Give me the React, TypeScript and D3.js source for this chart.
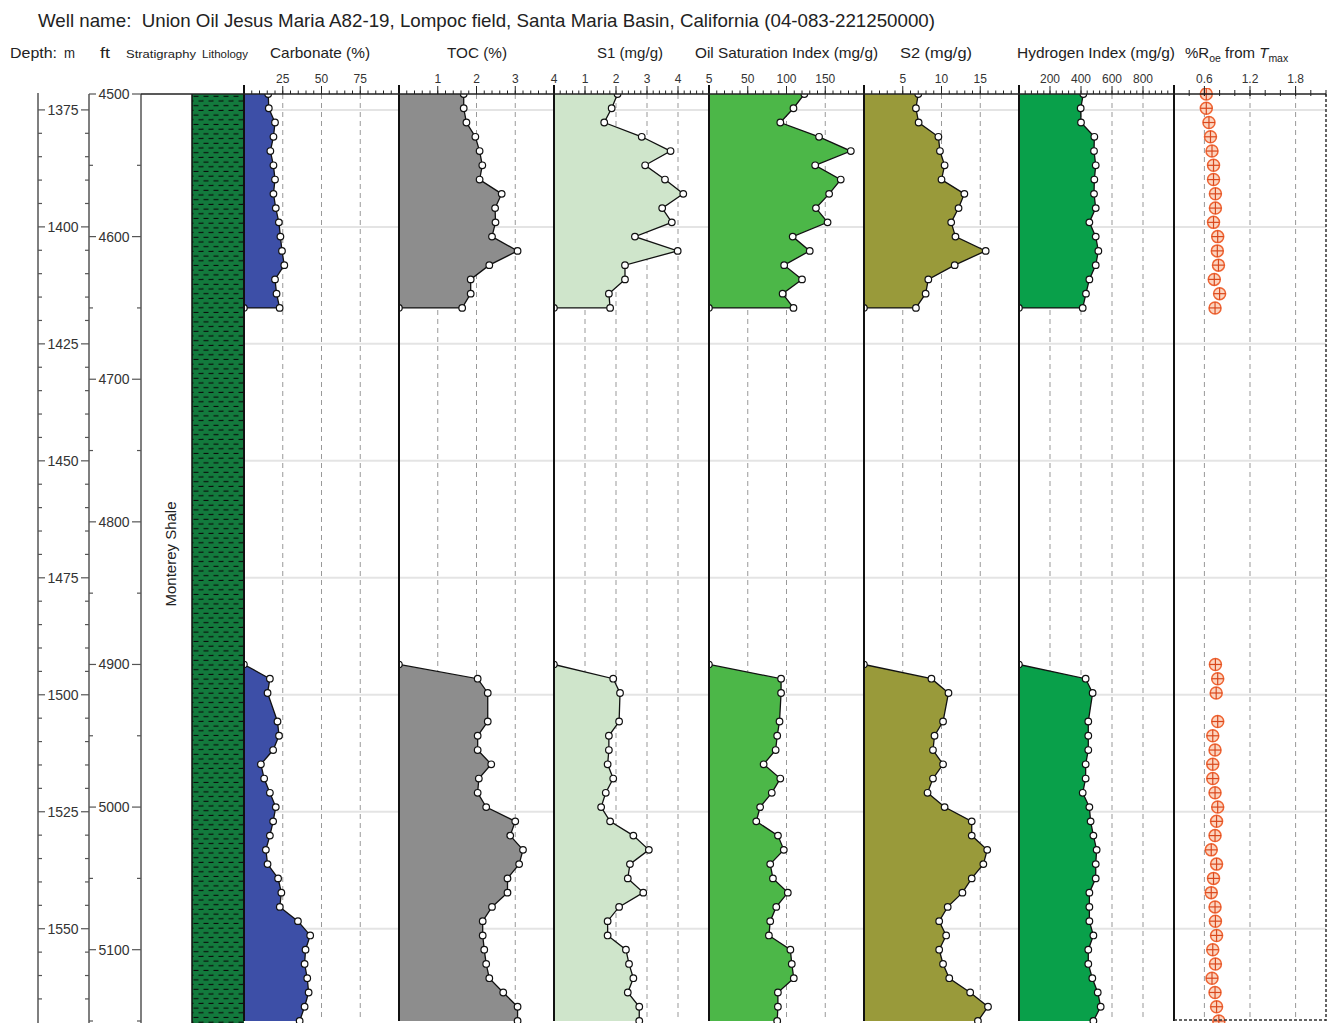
import React from "react";
import * as d3 from "d3";

// ---------------- DATA ----------------
const titleText =
  "Well name:  Union Oil Jesus Maria A82-19, Lompoc field, Santa Maria Basin, California (04-083-221250000)";

const depthDomainFt = [4500, 5150];
const meterLabels = [1375, 1400, 1425, 1450, 1475, 1500, 1525, 1550];
const footLabels = [4500, 4600, 4700, 4800, 4900, 5000, 5100];
const formationName = "Monterey Shale";

const intervalUpper = [4500, 4650];
const intervalLower = [4900, 5150];

const depthsUpper = [4500, 4510, 4520, 4530, 4540, 4550, 4560, 4570, 4580, 4590, 4600, 4610, 4620, 4630, 4640, 4650];
const depthsLower = [4910, 4920, 4940, 4950, 4960, 4970, 4980, 4990, 5000, 5010, 5020, 5030, 5040, 5050, 5060, 5070, 5080, 5090, 5100, 5110, 5120, 5130, 5140, 5150];
const roDepthsLower = [4900, 4910, 4920, 4940, 4950, 4960, 4970, 4980, 4990, 5000, 5010, 5020, 5030, 5040, 5050, 5060, 5070, 5080, 5090, 5100, 5110, 5120, 5130, 5140, 5150];

const carbonateUpper = [15.6, 16, 20, 19, 17, 19, 20, 19, 20.5, 22.5, 23.5, 24.5, 26, 20, 21, 23];
const carbonateLower = [16.7, 15.2, 21.6, 22.6, 18.8, 10.9, 13, 16.7, 20.5, 18.8, 16.7, 14.1, 15.2, 22, 24.1, 23.1, 34.8, 42.7, 39.7, 39.1, 40.8, 41.7, 39.1, 35.9];

const tocUpper = [1.67, 1.67, 1.74, 1.97, 2.08, 2.15, 2.08, 2.65, 2.48, 2.49, 2.4, 3.06, 2.33, 1.85, 1.85, 1.63];
const tocLower = [2.03, 2.29, 2.29, 2.03, 2.03, 2.38, 2.06, 2.03, 2.25, 3.0, 2.87, 3.2, 3.1, 2.8, 2.8, 2.4, 2.16, 2.16, 2.2, 2.25, 2.33, 2.69, 3.06, 3.06];

const s1Upper = [2.05, 1.86, 1.62, 2.83, 3.76, 2.94, 3.58, 4.17, 3.49, 3.8, 2.61, 3.99, 2.29, 2.29, 1.77, 1.81];
const s1Lower = [1.91, 2.13, 2.1, 1.77, 1.77, 1.73, 1.91, 1.67, 1.52, 1.81, 2.56, 3.06, 2.45, 2.38, 2.88, 2.1, 1.73, 1.73, 2.32, 2.42, 2.56, 2.38, 2.75, 2.75];

const osiUpper = [123, 109, 92, 142, 183, 137, 170, 155, 138, 153, 108, 130, 97, 120, 95, 109];
const osiLower = [93, 93, 91, 88, 86, 70.5, 92, 81, 66, 61, 89, 96.5, 79, 82.5, 101.7, 86.8, 79, 77.3, 105, 106.8, 109.4, 88.9, 88.9, 88];

const s2Upper = [7.0, 6.7, 7.05, 9.6, 9.8, 10.4, 10.0, 12.95, 12.2, 11.25, 11.8, 15.7, 11.7, 8.3, 7.95, 6.7];
const s2Lower = [8.7, 10.9, 10.2, 9.1, 8.9, 10.2, 8.9, 8.2, 10.4, 13.9, 13.9, 15.9, 15.4, 13.9, 12.7, 10.8, 9.7, 10.6, 9.7, 10.2, 11.0, 13.7, 16.0, 14.7];

const hiUpper = [415, 398, 400, 486, 484, 495, 486, 484, 495, 454, 495, 512, 495, 454, 432, 411];
const hiLower = [430, 475, 447, 447, 447, 430, 430, 411, 454, 462, 480, 501, 495, 495, 454, 454, 454, 480, 447, 447, 473, 508, 527, 480];

const roUpper = [0.625, 0.625, 0.66, 0.68, 0.7, 0.72, 0.72, 0.745, 0.745, 0.72, 0.775, 0.77, 0.785, 0.73, 0.8, 0.74];
const roLower = [0.745, 0.775, 0.755, 0.775, 0.71, 0.74, 0.71, 0.71, 0.74, 0.775, 0.76, 0.74, 0.69, 0.76, 0.72, 0.69, 0.74, 0.745, 0.76, 0.71, 0.745, 0.7, 0.74, 0.76, 0.79];

const carbonateTicks = [25, 50, 75];
const tocTicks = [1, 2, 3, 4];
const s1Ticks = [1, 2, 3, 4, 5];
const osiTicks = [50, 100, 150];
const s2Ticks = [5, 10, 15];
const hiTicks = [200, 400, 600, 800];
const roTicks = [0.6, 1.2, 1.8];

// ---------------- LAYOUT ----------------
const W = 1328;
const H = 1023;
const TOP = 94;
const BOTTOM = 1021;
const TRACK0 = 244;
const TRACKW = 155;
const FONT = "'Liberation Sans', Arial, Helvetica, sans-serif";
const FT_PER_M = 3.28084;

type Track = {
  key: string;
  label: string;
  lx: [number, number];
  domain: [number, number];
  ticks: number[];
  grid: number[];
  minor: number;
  fill: string;
  upper: number[];
  lower: number[];
};

const curveTracks: Track[] = [
  { key: "carb", label: "Carbonate (%)", lx: [270, 370], domain: [0, 100], ticks: carbonateTicks, grid: carbonateTicks, minor: 5, fill: "#3d4fa7", upper: carbonateUpper, lower: carbonateLower },
  { key: "toc", label: "TOC (%)", lx: [447, 507], domain: [0, 4], ticks: tocTicks, grid: [1, 2, 3], minor: 0.2, fill: "#8d8d8d", upper: tocUpper, lower: tocLower },
  { key: "s1", label: "S1 (mg/g)", lx: [597, 663], domain: [0, 5], ticks: s1Ticks, grid: [1, 2, 3, 4], minor: 0.2, fill: "#cfe5cb", upper: s1Upper, lower: s1Lower },
  { key: "osi", label: "Oil Saturation Index (mg/g)", lx: [695, 878], domain: [0, 200], ticks: osiTicks, grid: osiTicks, minor: 10, fill: "#4cb748", upper: osiUpper, lower: osiLower },
  { key: "s2", label: "S2 (mg/g)", lx: [900, 972], domain: [0, 20], ticks: s2Ticks, grid: s2Ticks, minor: 1, fill: "#999a3a", upper: s2Upper, lower: s2Lower },
  { key: "hi", label: "Hydrogen Index (mg/g)", lx: [1017, 1175], domain: [0, 1000], ticks: hiTicks, grid: hiTicks, minor: 40, fill: "#09a04a", upper: hiUpper, lower: hiLower },
];

const roDomain: [number, number] = [0.2, 2.2];

const y = d3.scaleLinear().domain(depthDomainFt).range([TOP, BOTTOM]);
const yM = (m: number) => y(m * FT_PER_M);

type P = { d: number; v: number };
const toPts = (ds: number[], vs: number[]): P[] => ds.map((d, i) => ({ d, v: vs[i] }));

function CurveTrack({ t, i }: { t: Track; i: number }) {
  const x0 = TRACK0 + i * TRACKW;
  const xs = d3.scaleLinear().domain(t.domain).range([x0, x0 + TRACKW]);
  const line = d3
    .line<P>()
    .x((p) => xs(p.v))
    .y((p) => y(p.d));
  const base = t.domain[0];
  const up = toPts(depthsUpper, t.upper);
  const lo = toPts(depthsLower, t.lower);
  const upPoly = [{ d: intervalUpper[0], v: base }, ...up, { d: intervalUpper[1], v: base }];
  const upLine = [...up, { d: intervalUpper[1], v: base }];
  const loPoly = [{ d: intervalLower[0], v: base }, ...lo, { d: intervalLower[1], v: base }];
  const loLine = [{ d: intervalLower[0], v: base }, ...lo];
  const minors = d3.range(t.domain[0], t.domain[1] + t.minor / 2, t.minor);
  const clipId = `clip-${t.key}`;
  return (
    <g>
      <defs>
        <clipPath id={clipId}>
          <rect x={x0} y={TOP} width={TRACKW} height={BOTTOM - TOP + 2} />
        </clipPath>
      </defs>
      {t.grid.map((g) => (
        <line key={"g" + g} x1={xs(g)} x2={xs(g)} y1={TOP} y2={BOTTOM} stroke="#999" strokeWidth={1} strokeDasharray="5,4" />
      ))}
      <g clipPath={`url(#${clipId})`}>
        <path d={line([...upPoly]) + "Z"} fill={t.fill} stroke="none" />
        <path d={line([...loPoly]) + "Z"} fill={t.fill} stroke="none" />
        <path d={line(upLine) || ""} fill="none" stroke="#111" strokeWidth={1.3} />
        <path d={line(loLine) || ""} fill="none" stroke="#111" strokeWidth={1.3} />
        {[...up, ...lo].map((p, k) => (
          <circle key={k} cx={xs(p.v)} cy={y(p.d)} r={3.3} fill="#fff" stroke="#111" strokeWidth={1.2} />
        ))}
        <circle cx={xs(base)} cy={y(intervalUpper[1])} r={3.2} fill="#fff" stroke="#111" strokeWidth={1.2} />
        <circle cx={xs(base)} cy={y(intervalLower[0])} r={3.2} fill="#fff" stroke="#111" strokeWidth={1.2} />
      </g>
      {minors.map((m, k) => (
        <line key={"m" + k} x1={xs(m)} x2={xs(m)} y1={TOP} y2={TOP - 3.5} stroke="#222" strokeWidth={1} />
      ))}
      {t.ticks.map((tk) => (
        <line key={"t" + tk} x1={xs(tk)} x2={xs(tk)} y1={TOP} y2={TOP - 8} stroke="#222" strokeWidth={1} />
      ))}
      {t.ticks.map((tk) => (
        <text key={"l" + tk} x={xs(tk)} y={83} fontSize={12} textAnchor="middle" fill="#333" fontFamily={FONT}>
          {tk}
        </text>
      ))}
      <line x1={x0} x2={x0} y1={TOP - 9} y2={BOTTOM} stroke="#111" strokeWidth={2} />
      <text x={t.lx[0]} y={58} fontSize={15} fill="#222" fontFamily={FONT} textLength={t.lx[1] - t.lx[0]} lengthAdjust="spacingAndGlyphs">
        {t.label}
      </text>
    </g>
  );
}

function RoTrack() {
  const x0 = TRACK0 + 6 * TRACKW;
  const x1 = W - 2;
  const xs = d3.scaleLinear().domain(roDomain).range([x0, x1]);
  const pts = [...toPts(depthsUpper, roUpper), ...toPts(roDepthsLower, roLower)];
  const minors = d3.range(roDomain[0], roDomain[1] + 0.1, 0.2);
  const r = 6;
  return (
    <g>
      <defs>
        <clipPath id="clip-ro">
          <rect x={x0} y={TOP - 6} width={x1 - x0} height={BOTTOM - TOP + 8} />
        </clipPath>
      </defs>
      {roTicks.map((g) => (
        <line key={"g" + g} x1={xs(g)} x2={xs(g)} y1={TOP} y2={BOTTOM} stroke="#999" strokeWidth={1} strokeDasharray="5,4" />
      ))}
      <g clipPath="url(#clip-ro)">
        {pts.map((p, k) => {
          const cx = xs(p.v);
          const cy = y(p.d);
          return (
            <g key={k}>
              <circle cx={cx} cy={cy} r={r} fill="#fcd5c0" stroke="#ef6433" strokeWidth={1.5} />
              <line x1={cx - r} x2={cx + r} y1={cy} y2={cy} stroke="#d9481d" strokeWidth={1.2} />
              <line x1={cx} x2={cx} y1={cy - r} y2={cy + r} stroke="#d9481d" strokeWidth={1.2} />
            </g>
          );
        })}
      </g>
      {minors.map((m, k) => (
        <line key={"m" + k} x1={xs(m)} x2={xs(m)} y1={TOP + 2} y2={TOP - 4} stroke="#222" strokeWidth={1} />
      ))}
      {roTicks.map((tk) => (
        <line key={"t" + tk} x1={xs(tk)} x2={xs(tk)} y1={TOP + 2} y2={TOP - 8} stroke="#222" strokeWidth={1} />
      ))}
      {roTicks.map((tk) => (
        <text key={"l" + tk} x={xs(tk)} y={83} fontSize={12} textAnchor="middle" fill="#333" fontFamily={FONT}>
          {tk.toFixed(1)}
        </text>
      ))}
      <line x1={x0} x2={x0} y1={TOP - 9} y2={BOTTOM} stroke="#111" strokeWidth={2} />
      <line x1={x1} x2={x1} y1={TOP} y2={BOTTOM} stroke="#333" strokeWidth={1.5} strokeDasharray="3,2" />
      <line x1={x0} x2={x1} y1={BOTTOM - 1} y2={BOTTOM - 1} stroke="#333" strokeWidth={1.5} strokeDasharray="3,2" />
      <text x={1185} y={58} fontSize={15} fill="#222" fontFamily={FONT}>
        <tspan>%R</tspan>
        <tspan fontSize={10.5} dy={4}>oe</tspan>
        <tspan dy={-4}> from </tspan>
        <tspan fontStyle="italic">T</tspan>
        <tspan fontSize={10.5} dy={4}>max</tspan>
      </text>
    </g>
  );
}

export default function App() {
  const meterMinorAll = d3.range(1370, 1571, 5).filter((m) => m * FT_PER_M >= depthDomainFt[0] && m * FT_PER_M <= depthDomainFt[1]);
  const footMinor = d3.range(depthDomainFt[0], depthDomainFt[1] + 1, 50);
  return (
    <svg width={W} height={H} style={{ position: "absolute", left: 0, top: 0, background: "#fff" }} fontFamily={FONT}>
      <defs>
        <pattern id="litho" width={10} height={9.4} patternUnits="userSpaceOnUse" x={192} y={TOP}>
          <rect width={10} height={9.4} fill="#137a3d" />
          <line x1={1.5} x2={6.5} y1={2.3} y2={2.3} stroke="#0a0a0a" strokeWidth={1.1} />
          <line x1={6.5} x2={11.5} y1={7} y2={7} stroke="#0a0a0a" strokeWidth={1.1} />
          <line x1={-3.5} x2={1.5} y1={7} y2={7} stroke="#0a0a0a" strokeWidth={1.1} />
        </pattern>
      </defs>
      <rect x={0} y={0} width={W} height={H} fill="#fff" />

      <text x={38} y={27} fontSize={19} fill="#222" textLength={897} lengthAdjust="spacingAndGlyphs" style={{ whiteSpace: "pre" }}>
        {titleText}
      </text>

      <text x={10} y={58} fontSize={15} fill="#222" textLength={47} lengthAdjust="spacingAndGlyphs">Depth:</text>
      <text x={64} y={58} fontSize={15} fill="#222" textLength={11} lengthAdjust="spacingAndGlyphs">m</text>
      <text x={100} y={58} fontSize={15} fill="#222" textLength={10} lengthAdjust="spacingAndGlyphs">ft</text>
      <text x={126} y={58} fontSize={11.5} fill="#222" textLength={70} lengthAdjust="spacingAndGlyphs">Stratigraphy</text>
      <text x={202} y={58} fontSize={11.5} fill="#222" textLength={46} lengthAdjust="spacingAndGlyphs">Lithology</text>

      {meterLabels.map((m) => (
        <line key={"hg" + m} x1={TRACK0} x2={W - 2} y1={yM(m)} y2={yM(m)} stroke="#e4e4e4" strokeWidth={2} />
      ))}

      <line x1={38} x2={38} y1={TOP - 1} y2={BOTTOM + 2} stroke="#555" strokeWidth={1.5} />
      <line x1={89} x2={89} y1={TOP} y2={BOTTOM + 2} stroke="#555" strokeWidth={1.5} />
      <line x1={141} x2={141} y1={TOP} y2={BOTTOM + 2} stroke="#555" strokeWidth={1.5} />
      {meterMinorAll.map((m) => {
        const major = m % 25 === 0;
        const yy = yM(m);
        return (
          <g key={"mt" + m}>
            <line x1={38} x2={major ? 45 : 42} y1={yy} y2={yy} stroke="#555" strokeWidth={1.2} />
            <line x1={89} x2={major ? 81 : 85} y1={yy} y2={yy} stroke="#555" strokeWidth={1.2} />
          </g>
        );
      })}
      {meterLabels.map((m) => (
        <text key={"ml" + m} x={63} y={yM(m) + 5} fontSize={14} fill="#333" textAnchor="middle">
          {m}
        </text>
      ))}
      {footMinor.map((f) => {
        const major = f % 100 === 0;
        const yy = y(f);
        return (
          <g key={"ft" + f}>
            <line x1={89} x2={major ? 96 : 93} y1={yy} y2={yy} stroke="#555" strokeWidth={1.2} />
            <line x1={141} x2={major ? 132 : 137} y1={yy} y2={yy} stroke="#555" strokeWidth={1.2} />
          </g>
        );
      })}
      {footLabels.map((f) => (
        <text key={"fl" + f} x={114} y={y(f) + 5} fontSize={14} fill="#333" textAnchor="middle">
          {f}
        </text>
      ))}

      <text transform={`translate(176, 554) rotate(-90)`} fontSize={15} fill="#222" textAnchor="middle">
        {formationName}
      </text>

      <rect x={192} y={TOP} width={52} height={BOTTOM - TOP + 2} fill="url(#litho)" />
      <line x1={192} x2={192} y1={TOP} y2={BOTTOM + 2} stroke="#111" strokeWidth={1.5} />

      {curveTracks.map((t, i) => (
        <CurveTrack key={t.key} t={t} i={i} />
      ))}
      <RoTrack />

      <line x1={141} x2={W - 2} y1={TOP} y2={TOP} stroke="#222" strokeWidth={1.5} />
    </svg>
  );
}
